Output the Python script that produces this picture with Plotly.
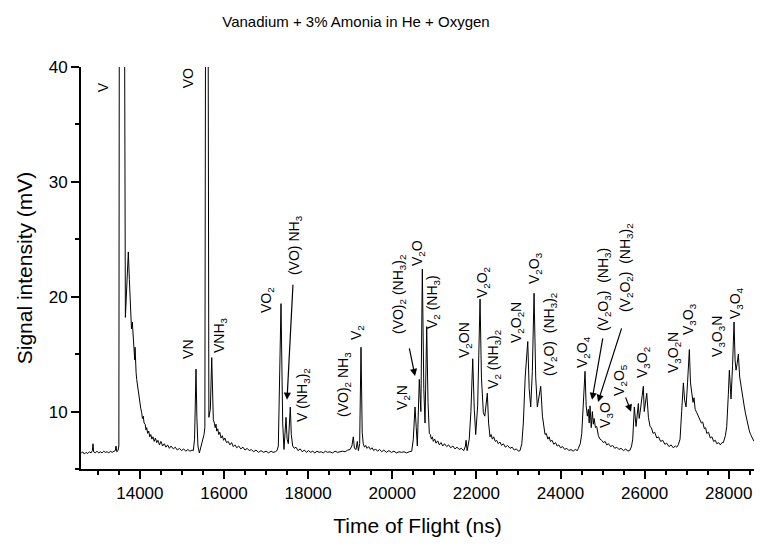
import plotly.graph_objects as go

# ---- data (time of flight in ns, signal in mV) ----
tof_ns = [
    12600, 12640, 12680, 12720, 12760, 12800, 12840, 12870, 12885, 12900, 12940, 12980, 13020, 13060, 13100,
    13140, 13180, 13220, 13260, 13300, 13340, 13380, 13415, 13432, 13450, 13480, 13500,
    13530, 13585, 13655, 13690, 13725, 13750, 13782, 13800, 13820, 13844, 13860, 13877, 13885, 13895, 13910,
    13924, 13945, 13960, 13980, 14000, 14020, 14043, 14060, 14080, 14100, 14125, 14145, 14162, 14185, 14210,
    14235, 14260, 14285, 14310, 14340, 14370, 14400, 14430, 14465, 14500, 14540, 14580, 14620, 14660, 14700,
    14740, 14795, 14840, 14890, 14940, 14990, 15040, 15090, 15140, 15190, 15240, 15270,
    15300, 15334, 15355, 15380, 15414, 15450, 15490, 15525, 15545, 15580, 15590, 15640, 15675, 15708, 15730,
    15746, 15770, 15790, 15810, 15826, 15850, 15875, 15900, 15930, 15960, 15990, 16020, 16060, 16100, 16140,
    16180, 16220, 16260, 16302, 16350, 16400, 16450, 16500, 16550, 16600, 16650, 16700, 16760, 16820, 16880,
    16940, 17000, 17060, 17120, 17165, 17220, 17260, 17291,
    17355, 17395, 17426, 17474, 17500, 17529, 17576, 17600, 17633, 17670, 17710, 17760, 17810, 17860, 17910,
    17960, 18010, 18060, 18110, 18160, 18210, 18260, 18310, 18360, 18410, 18460, 18520, 18580, 18640, 18700,
    18760, 18820, 18880, 18940, 18996, 19040, 19074, 19100, 19140, 19169, 19195, 19225, 19257, 19285, 19310,
    19340, 19370, 19400, 19440, 19480, 19520, 19560, 19600, 19650, 19700, 19750, 19800, 19860, 19920, 19980,
    20040, 20100, 20160, 20220, 20280, 20340, 20400, 20463,
    20500, 20541, 20570, 20596, 20643, 20680, 20715, 20750, 20779, 20819, 20850, 20881, 20905, 20930, 20955,
    20976, 21010, 21040, 21080, 21120, 21160, 21200, 21240, 21295, 21340, 21390, 21440, 21490, 21540, 21590,
    21640, 21700, 21740, 21754, 21780, 21830, 21870, 21913, 21950, 21984, 22030, 22087, 22120, 22165, 22200,
    22230, 22260, 22290, 22324, 22350, 22380, 22410, 22450, 22483, 22520, 22560, 22600, 22640, 22690, 22740,
    22800, 22850, 22900, 22950, 23000, 23038, 23080, 23116,
    23160, 23221, 23255, 23292, 23330, 23371, 23410, 23449, 23490, 23530, 23570, 23600, 23632, 23660, 23700,
    23730, 23760, 23800, 23840, 23880, 23920, 23960, 24000, 24050, 24100, 24150, 24200, 24250, 24300, 24350,
    24400, 24424, 24470, 24505, 24550, 24583, 24610, 24638, 24662, 24682, 24702, 24730, 24757, 24780, 24800,
    24830, 24861, 24900, 24940, 24980, 25020, 25060, 25099, 25140, 25190, 25240, 25290, 25337, 25390, 25440,
    25500, 25550, 25600, 25653, 25690, 25717,
    25755, 25796, 25850, 25870, 25891, 25930, 25969, 25990, 26010, 26050, 26090, 26128, 26160, 26200, 26240,
    26288, 26330, 26380, 26430, 26480, 26526, 26580, 26630, 26680, 26730, 26763, 26800, 26842,
    26880, 26921, 26950, 26985, 27020, 27063, 27090, 27120, 27150, 27175, 27200, 27240, 27277, 27310, 27350,
    27380, 27420, 27450, 27477, 27520, 27560, 27600, 27640, 27680, 27715, 27760, 27800, 27840, 27871, 27920,
    27952,
    27990, 28014, 28040, 28054, 28090, 28126, 28150, 28173, 28200, 28228, 28260, 28290, 28309, 28340, 28370,
    28400, 28428, 28460, 28490, 28520, 28560, 28601,
]
signal_mv = [
    6.35, 6.5, 6.3, 6.45, 6.35, 6.5, 6.4, 6.6, 7.2, 6.5, 6.4, 6.55, 6.4, 6.5, 6.4,
    6.55, 6.45, 6.5, 6.4, 6.55, 6.45, 6.5, 6.6, 7.0, 6.5, 6.6, 7.0,
    110, 110, 18.2, 21.0, 23.9, 21.5, 19.1, 17.2, 17.8, 16.0, 15.0, 14.5, 15.6, 14.2, 13.4,
    12.8, 12.2, 11.6, 11.3, 10.6, 10.3, 9.9, 9.4, 9.6, 9.0, 8.9, 8.4, 8.6, 8.1, 8.3,
    7.8, 8.0, 7.6, 7.8, 7.4, 7.7, 7.3, 7.5, 7.1, 7.4, 7.0, 7.2, 6.9, 7.1, 6.8,
    7.0, 6.75, 6.9, 6.65, 6.8, 6.6, 6.75, 6.55, 6.7, 6.55, 6.65, 6.6,
    7.6, 13.7, 9.5, 7.0, 6.4, 6.9, 7.3, 8.0, 8.6, 110, 110, 9.5, 10.2, 14.7, 10.5,
    9.3, 9.0, 8.6, 8.9, 8.3, 8.5, 8.0, 8.2, 7.7, 7.9, 7.5, 7.7, 7.3, 7.4, 7.1,
    7.3, 6.95, 7.1, 6.85, 7.0, 6.75, 6.9, 6.65, 6.8, 6.6, 6.7, 6.5, 6.65, 6.45, 6.6,
    6.45, 6.55, 6.4, 6.55, 6.45, 6.5, 6.6, 7.0,
    19.4, 9.0, 6.7, 9.5, 7.6, 7.2, 10.4, 8.0, 7.0, 6.8, 6.9, 6.6, 6.75, 6.5, 6.65,
    6.45, 6.6, 6.45, 6.55, 6.4, 6.55, 6.45, 6.5, 6.4, 6.55, 6.45, 6.5, 6.4, 6.55, 6.45,
    6.5, 6.55, 6.5, 6.65, 6.7, 7.0, 7.8, 6.8, 6.7, 7.4, 6.6, 7.2, 15.6, 8.2, 7.2,
    6.9, 7.05, 6.8, 6.95, 6.7, 6.85, 6.6, 6.75, 6.55, 6.7, 6.5, 6.65, 6.45, 6.6, 6.45,
    6.55, 6.4, 6.5, 6.45, 6.5, 6.4, 6.5, 6.55,
    7.6, 10.4, 8.6, 7.0, 12.8, 10.0, 22.4, 12.0, 9.0, 17.4, 10.8, 8.1, 8.0, 7.6, 7.8,
    7.4, 7.6, 7.25, 7.45, 7.1, 7.3, 7.0, 7.2, 6.95, 7.1, 6.85, 7.0, 6.75, 6.9, 6.7,
    6.8, 6.6, 7.0, 7.5, 6.6, 7.6, 10.0, 14.6, 10.2, 8.0, 10.5, 19.8, 13.0, 9.9, 9.6,
    10.4, 11.6, 9.0, 7.8, 8.0, 7.6, 7.8, 7.4, 7.5, 7.2, 7.35, 7.05, 7.2, 6.9, 7.05,
    6.8, 6.9, 6.65, 6.75, 6.55, 6.6, 7.2, 9.0,
    13.0, 16.1, 12.0, 10.4, 13.5, 20.3, 13.0, 10.4, 11.2, 12.2, 9.6, 8.8, 8.0, 8.1, 7.6,
    7.8, 7.4, 7.5, 7.15, 7.3, 7.0, 7.1, 6.85, 6.95, 6.7, 6.8, 6.6, 6.7, 6.55, 6.7,
    6.6, 6.8, 7.2, 8.1, 11.0, 13.5, 10.5, 9.6, 10.2, 9.0, 10.5, 8.6, 10.0, 8.9, 9.4,
    8.6, 8.7, 7.9, 7.6, 7.5, 7.3, 7.4, 7.1, 7.2, 6.95, 7.05, 6.8, 6.9, 6.7, 6.8,
    6.6, 6.75, 6.55, 6.65, 7.0, 7.6,
    10.4, 8.7, 10.7, 9.4, 9.9, 11.0, 12.2, 10.0, 10.5, 11.6, 9.5, 8.7, 8.6, 8.1, 8.2,
    7.7, 7.8, 7.4, 7.5, 7.15, 7.25, 6.95, 7.1, 6.85, 7.0, 6.9, 7.1, 7.6,
    10.0, 12.5, 11.0, 10.4, 12.5, 15.4, 12.5, 11.6, 10.8, 11.2, 10.2, 9.9, 9.6, 9.3, 9.0,
    9.1, 8.5, 8.6, 8.1, 8.2, 7.7, 7.8, 7.4, 7.5, 7.2, 7.3, 7.1, 7.3, 7.3, 7.9,
    8.7,
    11.5, 13.6, 12.0, 11.1, 14.0, 17.8, 14.5, 13.6, 14.2, 15.0, 13.0, 12.2, 11.6, 11.0, 10.4,
    9.8, 9.3, 8.9, 8.3, 8.0, 7.7, 7.4,
]

# ---- peak labels (text, time-of-flight position, signal position) ----
label_texts = [
    "V", "VO", "VN", "VNH<sub>3</sub>", "VO<sub>2</sub>", "(VO) NH<sub>3</sub>", "V (NH<sub>3</sub>)<sub>2</sub>",
    "(VO)<sub>2</sub> NH<sub>3</sub>", "V<sub>2</sub>", "V<sub>2</sub>N", "(VO)<sub>2</sub> (NH<sub>3</sub>)<sub>2</sub>",
    "V<sub>2</sub>O", "V<sub>2</sub> (NH<sub>3</sub>)", "V<sub>2</sub>ON", "V<sub>2</sub>O<sub>2</sub>",
    "V<sub>2</sub> (NH<sub>3</sub>)<sub>2</sub>", "V<sub>2</sub>O<sub>2</sub>N", "V<sub>2</sub>O<sub>3</sub>",
    "(V<sub>2</sub>O)  (NH<sub>3</sub>)<sub>2</sub>", "V<sub>2</sub>O<sub>4</sub>",
    "(V<sub>2</sub>O<sub>3</sub>)  (NH<sub>3</sub>)", "(V<sub>2</sub>O<sub>2</sub>)  (NH<sub>3</sub>)<sub>2</sub>",
    "V<sub>3</sub>O", "V<sub>2</sub>O<sub>5</sub>", "V<sub>3</sub>O<sub>2</sub>", "V<sub>3</sub>O<sub>2</sub>N",
    "V<sub>3</sub>O<sub>3</sub>", "V<sub>3</sub>O<sub>3</sub>N", "V<sub>3</sub>O<sub>4</sub>",
]
label_ns = [
    13123, 15144, 15144, 15905, 17022, 17688, 17878, 18853, 19162, 20256, 20161, 20613, 20969, 21730, 22158,
    22420, 22966, 23394, 23751, 24536, 25035, 25558, 25082, 25415, 25962, 26699, 27056, 27745, 28173,
]
label_mv = [
    38.23, 39.02, 15.37, 16.67, 19.71, 24.5, 11.45, 12.32, 16.84, 11.19, 20.15, 23.8, 19.54, 16.23, 21.19,
    14.5, 17.71, 22.5, 16.67, 15.19, 20.58, 22.5, 9.71, 12.76, 14.23, 15.1, 18.06, 16.5, 19.45,
]

# ---- arrows: tail (ns, mV) -> head (ns, mV) ----
arrow_tail_ns = [17641, 20399, 25011, 25463, 25534]
arrow_tail_mv = [21.18, 15.63, 16.5, 17.37, 11.37]
arrow_head_ns = [17498, 20541, 24750, 24892, 25677]
arrow_head_mv = [11.02, 13.1, 11.02, 10.84, 9.98]

x_major = [14000, 16000, 18000, 20000, 22000, 24000, 26000, 28000]
y_major = [10, 20, 30, 40]

FONT = "Liberation Sans, Arial, sans-serif"

fig = go.Figure()
fig.add_trace(go.Scatter(x=tof_ns, y=signal_mv, mode="lines",
                         line=dict(color="black", width=1), hoverinfo="skip", showlegend=False))

annotations = []
for t, xv, yv in zip(label_texts, label_ns, label_mv):
    annotations.append(dict(x=xv, y=yv, xref="x", yref="y", text=t, showarrow=False,
                            textangle=-90, xanchor="center", yanchor="middle",
                            font=dict(family=FONT, size=14, color="black")))
for tx, ty, hx, hy in zip(arrow_tail_ns, arrow_tail_mv, arrow_head_ns, arrow_head_mv):
    annotations.append(dict(x=hx, y=hy, ax=tx, ay=ty, xref="x", yref="y", axref="x", ayref="y",
                            text="", showarrow=True, arrowhead=2, arrowsize=1.2, arrowwidth=1.2,
                            arrowcolor="black", standoff=0, startstandoff=0))

fig.update_layout(
    width=760, height=546,
    margin=dict(l=81, r=6, t=67, b=77),
    paper_bgcolor="white", plot_bgcolor="white",
    font=dict(family=FONT, color="black"),
    title=dict(text="Vanadium + 3% Amonia in He + Oxygen", x=356 / 760, y=1 - 22 / 546,
               xref="paper" if False else "container", xanchor="center", yanchor="middle",
               font=dict(family=FONT, size=15, color="black")),
    annotations=annotations,
    showlegend=False,
)
fig.update_xaxes(
    range=[12600, 28600], showgrid=False, zeroline=False,
    showline=True, linecolor="black", linewidth=2, mirror=False,
    ticks="outside", ticklen=8, tickwidth=2, tickcolor="black",
    tickvals=x_major, ticktext=[str(v) for v in x_major],
    tickfont=dict(family=FONT, size=17, color="black"),
    minor=dict(ticks="outside", ticklen=4, tickwidth=2, tickcolor="black", dtick=500, tick0=0, showgrid=False),
    title=dict(text="Time of Flight (ns)", font=dict(family=FONT, size=21, color="black"), standoff=16),
)
fig.update_yaxes(
    range=[5, 40], showgrid=False, zeroline=False,
    showline=True, linecolor="black", linewidth=2, mirror=False,
    ticks="outside", ticklen=8, tickwidth=2, tickcolor="black",
    tickvals=y_major, ticktext=[str(v) for v in y_major],
    tickfont=dict(family=FONT, size=17, color="black"),
    minor=dict(ticks="outside", ticklen=4, tickwidth=2, tickcolor="black", dtick=5, tick0=0, showgrid=False),
    title=dict(text="Signal intensity (mV)", font=dict(family=FONT, size=21, color="black"), standoff=10),
)

fig.write_html("out.html")
